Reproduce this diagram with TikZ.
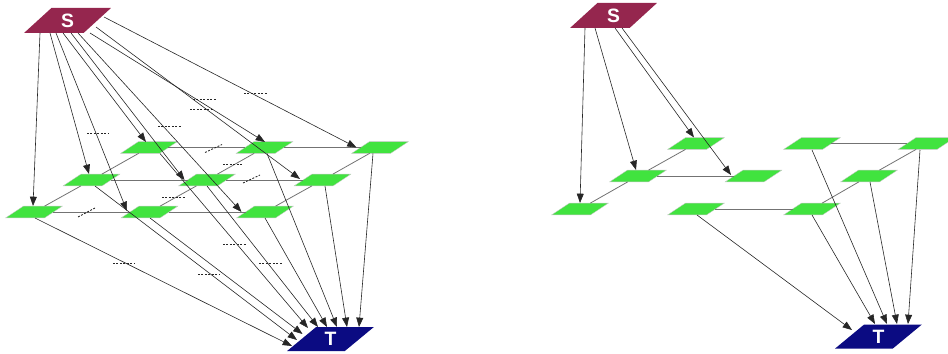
\documentclass[tikz,border=0pt]{standalone}
\usepackage{fontspec}
\setmainfont{Liberation Sans}
\usetikzlibrary{shapes.geometric,arrows.meta,calc}
\definecolor{sred}{HTML}{95264E}
\definecolor{tblue}{HTML}{0B0B82}
\definecolor{ngreen}{HTML}{41E33F}
\begin{document}
\begin{tikzpicture}[x=0.75pt,y=-0.75pt,
  para/.style={trapezium, trapezium stretches=true, inner sep=1pt, outer sep=0pt},
  gnode/.style={para, trapezium left angle=50, trapezium right angle=130,
    minimum width=42.5pt, minimum height=8.8pt, fill=ngreen, draw=black!22, line width=0.25pt},
  snode/.style={para, trapezium left angle=51, trapezium right angle=129,
    minimum width=65.25pt, minimum height=18.75pt, fill=sred, text=white,
    font=\bfseries\fontsize{14.5}{15}\selectfont},
  tnode/.style={para, trapezium left angle=47.5, trapezium right angle=132.5,
    minimum width=65.25pt, minimum height=18pt, fill=tblue, text=white,
    font=\bfseries\fontsize{14.5}{15}\selectfont},
  arr/.style={-{Triangle[length=7pt,width=5.2pt]}, line width=0.45pt, black!85},
  link/.style={line width=0.6pt, black!55},
  lbl/.style={line width=0.65pt, black!85, dash pattern=on 1.5pt off 1.1pt}
]
\useasboundingbox (0,0) rectangle (948,353);

% ---------------- left graph ----------------
\node[snode] (S) at (67.5,20.5) {S};
\node[tnode] (T) at (330.5,339) {T};

\node[gnode] (G1) at (149,147.5) {};
\node[gnode] (G2) at (264.5,147.5) {};
\node[gnode] (G3) at (380,147.5) {};
\node[gnode] (G4) at (91.5,180) {};
\node[gnode] (G5) at (207,180) {};
\node[gnode] (G6) at (322.5,180) {};
\node[gnode] (G7) at (34,212) {};
\node[gnode] (G8) at (149.5,212) {};
\node[gnode] (G9) at (265,212) {};

\draw[link] (G1) -- (G2);
\draw[link] (G2) -- (G3);
\draw[link] (G4) -- (G5);
\draw[link] (G5) -- (G6);
\draw[link] (G7) -- (G8);
\draw[link] (G8) -- (G9);
\draw[link] (G1) -- (G4);
\draw[link] (G2) -- (G5);
\draw[link] (G3) -- (G6);
\draw[link] (G4) -- (G7);
\draw[link] (G5) -- (G8);
\draw[link] (G6) -- (G9);

\draw[arr] ($(S)+(-27.5,12.5)$) -- ($(G7)+(-1,-6)$);
\draw[arr] ($(S)+(-17.5,12.5)$) -- ($(G4)+(-2.5,-6)$);
\draw[arr] ($(S)+(-11.5,12.5)$) -- ($(G8)+(-22.5,-1)$);
\draw[arr] ($(S)+(-4.5,12.5)$) -- ($(G1)+(-3,-5.5)$);
\draw[arr] ($(S)+(3.5,12.5)$) -- ($(G5)+(-22.5,0)$);
\draw[arr] ($(S)+(10.5,12.5)$) -- ($(G9)+(-23.5,0)$);
\draw[arr] ($(S)+(22.5,12.5)$) -- ($(G2)+(0.5,-5.5)$);
\draw[arr] ($(S)+(28.5,6.5)$) -- ($(G6)+(-22.5,-1)$);
\draw[arr] ($(S)+(36.5,-3.5)$) -- ($(G3)+(-23.5,0)$);

\draw[arr] ($(G7)+(1,6)$) -- ($(T)+(-38.5,7)$);
\draw[arr] ($(G4)+(3.5,6)$) -- ($(T)+(-33.5,1)$);
\draw[arr] ($(G8)+(0.5,6)$) -- ($(T)+(-28,-5)$);
\draw[arr] ($(G1)+(11,6)$) -- ($(T)+(-22.5,-11)$);
\draw[arr] ($(G5)+(0,6)$) -- ($(T)+(-12.5,-12)$);
\draw[arr] ($(G9)+(0,6)$) -- ($(T)+(-3.5,-12)$);
\draw[arr] ($(G2)+(2.5,6)$) -- ($(T)+(6.5,-12)$);
\draw[arr] ($(G6)+(2.5,6)$) -- ($(T)+(16.5,-12)$);
\draw[arr] ($(G3)+(-7,6)$) -- ($(T)+(28.5,-12)$);

% small dashed edge labels
\draw[lbl] (87,133) -- (108,133);
\draw[lbl] (158,126) -- (182,126);
\draw[lbl] (190,109) -- (213,109);
\draw[lbl] (193,99) -- (217,99);
\draw[lbl] (244,93) -- (267,93);
\draw[lbl] (223,164) -- (243,164);
\draw[lbl] (162,197) -- (185,197);
\draw[lbl] (113,263) -- (135,263);
\draw[lbl] (198,274) -- (220,274);
\draw[lbl] (223,244) -- (246,244);
\draw[lbl] (259,263) -- (282,263);
\draw[lbl] (205,152.5) -- (222,144.5);
\draw[lbl] (243,183) -- (260,175);
\draw[lbl] (78,217) -- (95,208);

% ---------------- right graph ----------------
\node[snode] (S2) at (613.5,15.5) {S};
\node[tnode] (T2) at (878.5,336.5) {T};

\node[gnode] (R1) at (696,143.5) {};
\node[gnode] (R2) at (812,143.5) {};
\node[gnode] (R3) at (926.5,143.5) {};
\node[gnode] (R4) at (638,176) {};
\node[gnode] (R5) at (753.5,176) {};
\node[gnode] (R6) at (869,176) {};
\node[gnode] (R7) at (580,209) {};
\node[gnode] (R8) at (696,209) {};
\node[gnode] (R9) at (812,209) {};

\draw[link] (R1) -- (R4);
\draw[link] (R4) -- (R5);
\draw[link] (R4) -- (R7);
\draw[link] (R2) -- (R3);
\draw[link] (R3) -- (R6);
\draw[link] (R6) -- (R9);
\draw[link] (R8) -- (R9);

\draw[arr] ($(S2)+(-28.5,12.5)$) -- ($(R7)+(0,-6)$);
\draw[arr] ($(S2)+(-18.5,12.5)$) -- ($(R4)+(-2,-6)$);
\draw[arr] ($(S2)+(1.5,12.5)$) -- ($(R1)+(-2,-6)$);
\draw[arr] ($(S2)+(8.5,12.5)$) -- ($(R5)+(-22.5,-1)$);

\draw[arr] ($(R8)+(1,6)$) -- ($(T2)+(-26.5,-6.5)$);
\draw[arr] ($(R9)+(0,6)$) -- ($(T2)+(-3.5,-12.5)$);
\draw[arr] ($(R2)+(0,6.5)$) -- ($(T2)+(8.5,-12.5)$);
\draw[arr] ($(R6)+(1,6)$) -- ($(T2)+(18.5,-12.5)$);
\draw[arr] ($(R3)+(-6.5,6.5)$) -- ($(T2)+(29.5,-12.5)$);
\end{tikzpicture}
\end{document}
